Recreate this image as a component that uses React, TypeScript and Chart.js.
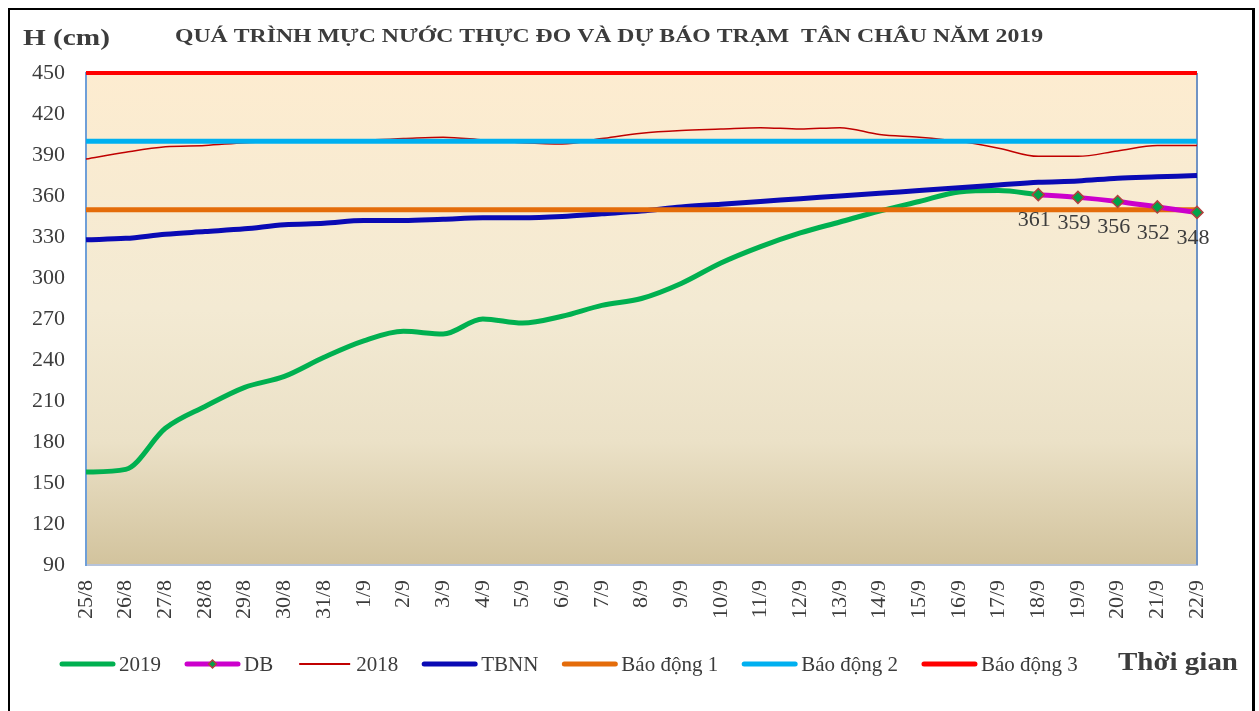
import React, { useEffect, useRef } from 'react';
import { Chart, registerables } from 'chart.js';

Chart.register(...registerables);

const dates = ['25/8', '26/8', '27/8', '28/8', '29/8', '30/8', '31/8', '1/9', '2/9', '3/9', '4/9', '5/9', '6/9', '7/9', '8/9', '9/9', '10/9', '11/9', '12/9', '13/9', '14/9', '15/9', '16/9', '17/9', '18/9', '19/9', '20/9', '21/9', '22/9'];

const obs2019 = [158, 160, 190, 206, 220, 228, 242, 254, 261, 259, 270, 267, 272, 280, 285, 296, 311, 323, 333, 341, 349, 356, 363, 364, 361, null, null, null, null];
const forecastDB = [null, null, null, null, null, null, null, null, null, null, null, null, null, null, null, null, null, null, null, null, null, null, null, null, 361, 359, 356, 352, 348];
const obs2018 = [387, 392, 396, 397, 399, 400, 401, 401, 402, 403, 401, 399, 398, 402, 406, 408, 409, 410, 409, 410, 405, 403, 400, 395, 389, 389, 393, 397, 397];
const avgTBNN = [328, 329, 332, 334, 336, 339, 340, 342, 342, 343, 344, 344, 345, 347, 349, 352, 354, 356, 358, 360, 362, 364, 366, 368, 370, 371, 373, 374, 375];
const alarmLevels = [350, 400, 450];

const yTicks = { min: 90, max: 450, step: 30 };

const TITLE = 'QUÁ TRÌNH MỰC NƯỚC THỰC ĐO VÀ DỰ BÁO TRẠM  TÂN CHÂU NĂM 2019';
const Y_TITLE = 'H (cm)';
const X_TITLE = 'Thời gian';

const SERIF = '"Liberation Serif", "Times New Roman", serif';
const TEXT = '#3c3c3c';

function fitText(ctx: CanvasRenderingContext2D, text: string, x: number, y: number, font: string, width: number, align: CanvasTextAlign) {
  ctx.save();
  ctx.font = font;
  ctx.fillStyle = TEXT;
  ctx.textBaseline = 'middle';
  ctx.textAlign = align;
  const w = ctx.measureText(text).width;
  const sx = width / w;
  ctx.translate(x, y);
  ctx.scale(sx, 1);
  ctx.fillText(text, 0, 0);
  ctx.restore();
}

function drawDiamond(ctx: CanvasRenderingContext2D, x: number, y: number, r: number) {
  ctx.save();
  ctx.beginPath();
  ctx.moveTo(x, y - r);
  ctx.lineTo(x + r, y);
  ctx.lineTo(x, y + r);
  ctx.lineTo(x - r, y);
  ctx.closePath();
  ctx.fillStyle = '#00a24a';
  ctx.fill();
  ctx.lineWidth = 1.5;
  ctx.strokeStyle = '#b0413e';
  ctx.stroke();
  ctx.restore();
}

const decorPlugin = {
  id: 'decor',
  beforeDraw(chart: any) {
    const { ctx, chartArea: a } = chart;
    const g = ctx.createLinearGradient(0, a.top, 0, a.bottom);
    g.addColorStop(0, '#fdecd0');
    g.addColorStop(0.48, '#f3ead3');
    g.addColorStop(0.75, '#ebe1c7');
    g.addColorStop(1, '#d2c39d');
    ctx.save();
    ctx.fillStyle = g;
    ctx.fillRect(a.left, a.top, a.right - a.left, a.bottom - a.top);
    ctx.restore();
  },
  beforeDatasetsDraw(chart: any) {
    const { ctx, chartArea: a } = chart;
    ctx.save();
    ctx.strokeStyle = '#7093c4';
    ctx.lineWidth = 2;
    ctx.beginPath();
    ctx.moveTo(a.right, a.top);
    ctx.lineTo(a.right, a.bottom);
    ctx.stroke();
    ctx.restore();
  },
  afterDatasetsDraw(chart: any) {
    const { ctx } = chart;
    const meta = chart.getDatasetMeta(1);
    ctx.save();
    ctx.font = `22px ${SERIF}`;
    ctx.fillStyle = TEXT;
    ctx.textAlign = 'center';
    ctx.textBaseline = 'middle';
    meta.data.forEach((pt: any, i: number) => {
      const v = forecastDB[i];
      if (v == null) return;
      ctx.fillText(String(v), pt.x - 4, pt.y + 26);
    });
    ctx.restore();
  },
  afterDraw(chart: any) {
    const { ctx } = chart;
    fitText(ctx, TITLE, 609, 37, `bold 19px ${SERIF}`, 868, 'center');
    fitText(ctx, Y_TITLE, 23, 39, `bold 23px ${SERIF}`, 87, 'left');

    const ly = 664;
    let x = 60;
    const lineLen = 55;
    ctx.save();
    ctx.font = `21px ${SERIF}`;
    ctx.textBaseline = 'middle';
    ctx.textAlign = 'left';
    chart.data.datasets.forEach((ds: any) => {
      ctx.save();
      ctx.strokeStyle = ds.borderColor;
      ctx.lineWidth = ds.borderWidth > 2 ? 5 : 2;
      ctx.lineCap = ds.borderWidth > 2 ? 'round' : 'butt';
      ctx.beginPath();
      ctx.moveTo(x + 2, ly);
      ctx.lineTo(x + lineLen - 2, ly);
      ctx.stroke();
      ctx.restore();
      if (ds.pointRadius > 0) drawDiamond(ctx, x + lineLen / 2, ly, 4);
      x += lineLen + 4;
      ctx.fillStyle = TEXT;
      ctx.fillText(ds.label, x, ly + 1);
      x += ctx.measureText(ds.label).width + 24;
    });
    ctx.restore();
    fitText(ctx, X_TITLE, 1118, 664, `bold 25px ${SERIF}`, 120, 'left');
  },
};

export default function App() {
  const ref = useRef<HTMLCanvasElement>(null);
  useEffect(() => {
    const canvas = ref.current!;
    const base = { pointRadius: 0, cubicInterpolationMode: 'monotone', fill: false, spanGaps: false, clip: false };
    const chart = new Chart(canvas, {
      type: 'line',
      data: {
        labels: dates,
        datasets: [
          { ...base, label: '2019', data: obs2019, borderColor: '#00b050', borderWidth: 5, order: 6 },
          {
            ...base, label: 'DB', data: forecastDB, borderColor: '#cc00cc', borderWidth: 5, order: 0,
            pointRadius: 6, pointStyle: 'rectRot', pointBackgroundColor: '#00a24a', pointBorderColor: '#b0413e', pointBorderWidth: 1.5,
          },
          { ...base, label: '2018', data: obs2018, borderColor: '#c00000', borderWidth: 1.5, order: 5 },
          { ...base, label: 'TBNN', data: avgTBNN, borderColor: '#0a0ab4', borderWidth: 5, order: 4 },
          { ...base, label: 'Báo động 1', data: dates.map(() => alarmLevels[0]), borderColor: '#e46c0a', borderWidth: 5, order: 3 },
          { ...base, label: 'Báo động 2', data: dates.map(() => alarmLevels[1]), borderColor: '#00b0f0', borderWidth: 5, order: 2 },
          { ...base, label: 'Báo động 3', data: dates.map(() => alarmLevels[2]), borderColor: '#ff0000', borderWidth: 4, order: 1 },
        ],
      } as any,
      options: {
        responsive: false,
        animation: false,
        events: [],
        layout: { padding: { top: 73, left: 0, right: 62, bottom: 0 } },
        plugins: { legend: { display: false }, title: { display: false }, tooltip: { enabled: false } },
        scales: {
          x: {
            offset: false,
            grid: { display: true, drawOnChartArea: false, drawTicks: false },
            border: { display: true, color: '#b6c3da', width: 2 },
            ticks: {
              autoSkip: false, minRotation: 90, maxRotation: 90, padding: 15,
              color: TEXT, font: { family: SERIF, size: 22 },
            },
            afterFit: (s: any) => { s.height = 146; },
          },
          y: {
            min: yTicks.min, max: yTicks.max,
            grid: { display: true, drawOnChartArea: false, drawTicks: false },
            border: { display: true, color: '#6f9fd8', width: 2 },
            ticks: { stepSize: yTicks.step, padding: 21, color: TEXT, font: { family: SERIF, size: 22 } },
            afterFit: (s: any) => { s.width = 86; },
          },
        },
      } as any,
      plugins: [decorPlugin],
    });
    return () => chart.destroy();
  }, []);

  return (
    <div style={{ position: 'fixed', left: 0, top: 0, width: 1259, height: 711, overflow: 'hidden', background: '#fff' }}>
      <div style={{ position: 'absolute', left: 8, top: 8, width: 1242, height: 720, borderTop: '2px solid #000', borderLeft: '2px solid #000', borderRight: '3px solid #000' }} />
      <canvas ref={ref} width={1259} height={711} style={{ position: 'absolute', left: 0, top: 0 }} />
    </div>
  );
}
